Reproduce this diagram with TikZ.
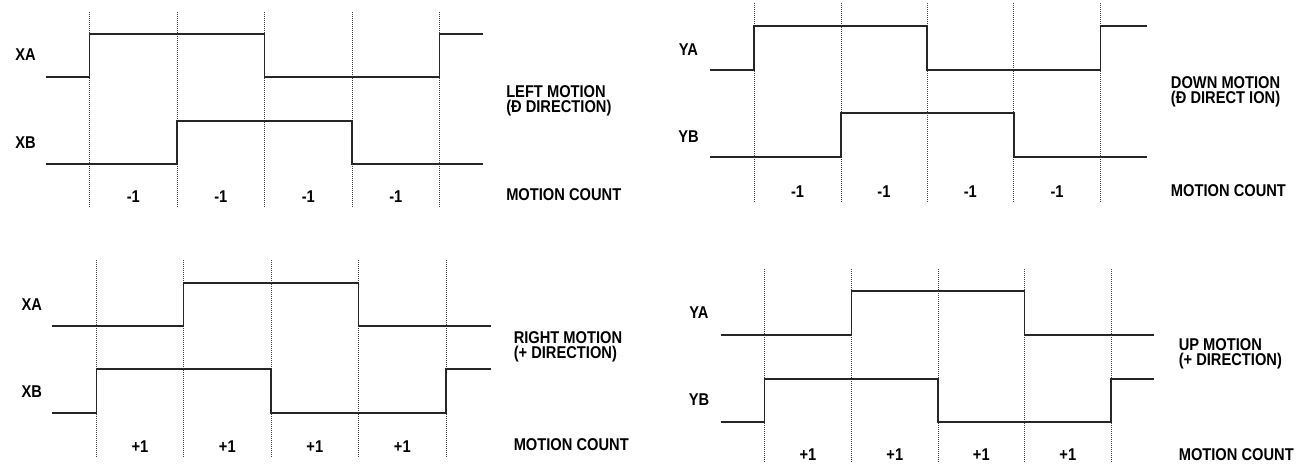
\documentclass[tikz,border=0pt]{standalone}
\usepackage{fontspec}
\newfontfamily\diagfont{Liberation Sans}[FakeStretch=0.86]
\begin{document}
\begin{tikzpicture}[x=0.75pt, y=-0.75pt,
  wave/.style={line width=1.4pt, black!85},
  gridline/.style={densely dotted, line width=0.5pt, black!75},
  sig/.style={font=\diagfont\bfseries\fontsize{12.8}{11.25}\selectfont, text=black, inner sep=0pt, anchor=base},
  note/.style={sig, anchor=north west, align=left},
  count/.style={sig, anchor=base west}]
\useasboundingbox (0,0) rectangle (1307,465);

% left motion
\foreach \x in {89.5,177,264.5,352,439.5} \draw[gridline] (\x,11.7) -- (\x,207);
\draw[wave] (45.7,77.3) -- (89.5,77.3) -- (89.5,33.7) -- (264.5,33.7) -- (264.5,77.3) -- (439.5,77.3) -- (439.5,33.7) -- (483,33.7);
\draw[wave] (45.7,164) -- (177,164) -- (177,121) -- (352,121) -- (352,164) -- (483,164);
\node[sig] (xa1) at (25.5,60.5) {XA};
\node[sig] (xb1) at (25.5,148.5) {XB};
\node[sig] (la) at (133.3,202) {-1};
\node[sig] (lb) at (220.8,202) {-1};
\node[sig] (lc) at (308.3,202) {-1};
\node[sig] (ld) at (395.8,202) {-1};
\node[note] (left) at (506,85) {LEFT MOTION\\(Ð DIRECTION)};
\node[count] (cntleft) at (506,200.5) {MOTION COUNT};

% down motion
\foreach \x in {754.3,841,927,1013.7,1100.5} \draw[gridline] (\x,3.3) -- (\x,201.7);
\draw[wave] (710,70) -- (754.3,70) -- (754.3,26) -- (927,26) -- (927,70) -- (1100.5,70) -- (1100.5,26) -- (1146.7,26);
\draw[wave] (710,157.3) -- (841,157.3) -- (841,113.3) -- (1013.7,113.3) -- (1013.7,157.3) -- (1146.7,157.3);
\node[sig] (ya1) at (688.5,55) {YA};
\node[sig] (yb1) at (688.5,142) {YB};
\node[sig] (da) at (797.6,197) {-1};
\node[sig] (db) at (884,197) {-1};
\node[sig] (dc) at (970.3,197) {-1};
\node[sig] (dd) at (1057.1,197) {-1};
\node[note] (down) at (1170.7,76) {DOWN MOTION\\(Ð DIRECT ION)};
\node[count] (cntdown) at (1170.7,196.7) {MOTION COUNT};

% right motion
\foreach \x in {96.5,183.5,271,358.5,446} \draw[gridline] (\x,260) -- (\x,456.7);
\draw[wave] (51.7,326) -- (183.5,326) -- (183.5,282.7) -- (358.5,282.7) -- (358.5,326) -- (491,326);
\draw[wave] (51.7,413.3) -- (96.5,413.3) -- (96.5,369.3) -- (271,369.3) -- (271,413.3) -- (446,413.3) -- (446,369.3) -- (491,369.3);
\node[sig] (xa2) at (31.7,310) {XA};
\node[sig] (xb2) at (31.7,397) {XB};
\node[sig] (ra) at (140,452) {+1};
\node[sig] (rb) at (227.3,452) {+1};
\node[sig] (rc) at (314.8,452) {+1};
\node[sig] (rd) at (402.3,452) {+1};
\node[note] (right) at (513.5,331.7) {RIGHT MOTION\\(+ DIRECTION)};
\node[count] (cntright) at (513.5,450) {MOTION COUNT};

% up motion
\foreach \x in {764.5,851.5,938,1024.5,1111} \draw[gridline] (\x,269) -- (\x,462);
\draw[wave] (720.7,335) -- (851.5,335) -- (851.5,290.7) -- (1024.5,290.7) -- (1024.5,335) -- (1154,335);
\draw[wave] (720.7,422.3) -- (764.5,422.3) -- (764.5,378.7) -- (938,378.7) -- (938,422.3) -- (1111,422.3) -- (1111,378.7) -- (1154,378.7);
\node[sig] (ya2) at (699,318.3) {YA};
\node[sig] (yb2) at (699,405) {YB};
\node[sig] (ua) at (808,460) {+1};
\node[sig] (ub) at (894.8,460) {+1};
\node[sig] (uc) at (981.3,460) {+1};
\node[sig] (ud) at (1067.8,460) {+1};
\node[note] (up) at (1178.5,338.3) {UP MOTION\\(+ DIRECTION)};
\node[count] (cntup) at (1178.5,460) {MOTION COUNT};
\end{tikzpicture}
\end{document}
